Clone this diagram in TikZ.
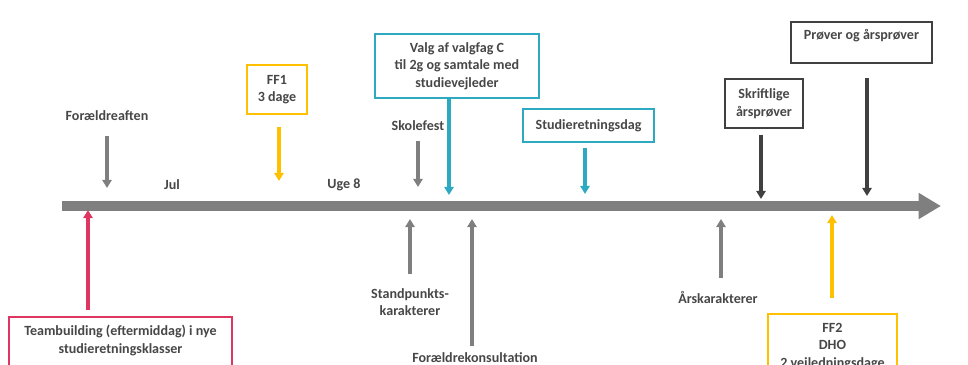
\documentclass[tikz,border=0pt]{standalone}
\usepackage{fontspec}
\setmainfont{Carlito}
\usetikzlibrary{arrows.meta}

\definecolor{linegray}{HTML}{7F7F7F}
\definecolor{darkgray}{HTML}{404040}
\definecolor{txtgray}{HTML}{474747}
\definecolor{ffyellow}{HTML}{FFC000}
\definecolor{srblue}{HTML}{2DA9C2}
\definecolor{tbred}{HTML}{DE3660}
\newcommand{\lblfont}{\bfseries\fontsize{12}{15}\selectfont}

\begin{document}
\begin{tikzpicture}[x=0.03cm,y=-0.03cm,font=\lblfont,text=txtgray]
	\tikzstyle{box}=[draw,line width=1.7pt,align=center,inner sep=3pt]
	\tikzstyle{pin}=[line width=2.6pt,-{Triangle[length=7pt,width=8pt]}]
	\tikzstyle{lbl}=[align=center,inner sep=0pt]

	\useasboundingbox (0,0) rectangle (968,365);
	\clip (0,0) rectangle (968,365);

	% timeline
	\coordinate (t_start) at (62,206);
	\coordinate (t_end) at (941,206);
	\draw[line width=8pt,linegray,-{Triangle[length=19pt,width=21pt]}] (t_start) -- (t_end);

	% above the line
	\node[lbl] (foraeldreaften) at (107,116) {Forældreaften};
	\node[lbl] (jul) at (172,185) {Jul};
	\node[lbl] (uge8) at (344,185) {Uge 8};
	\node[lbl] (skolefest) at (418,126) {Skolefest};
	\node[box,draw=ffyellow,minimum width=1.8cm,minimum height=1.47cm] (ff1) at (277,89.5) {FF1\\3 dage};
	\node[box,draw=srblue,minimum width=4.92cm,minimum height=1.92cm] (valgfag) at (457,66) {Valg af valgfag C\\til 2g og samtale med\\studievejleder};
	\node[box,draw=srblue,minimum width=3.93cm,minimum height=0.99cm] (srdag) at (588.5,125.5) {Studieretningsdag};
	\node[box,draw=darkgray,line width=1.3pt,minimum width=2.34cm,minimum height=1.47cm] (skriftlige) at (764,103.5) {Skriftlige\\årsprøver};
	\node[box,draw=darkgray,line width=1.3pt,minimum width=4.23cm,inner sep=4pt,text height=11pt,text depth=16pt] (proever) at (861.5,42.5) {Prøver og årsprøver};

	\coordinate (a_fa) at (107,188);
	\coordinate (a_ff1) at (279,181);
	\coordinate (a_sf) at (418,187);
	\coordinate (a_vf) at (449,195);
	\coordinate (a_sr) at (585,194);
	\coordinate (a_sk) at (761,199);
	\coordinate (a_pr) at (867,196);

	\draw[pin,linegray,shorten <=13pt] (foraeldreaften.south -| a_fa) -- (a_fa);
	\draw[pin,ffyellow,shorten <=10pt] (ff1.south -| a_ff1) -- (a_ff1);
	\draw[pin,linegray,shorten <=8pt] (skolefest.south -| a_sf) -- (a_sf);
	\draw[pin,srblue] (valgfag.south -| a_vf) -- (a_vf);
	\draw[pin,srblue,shorten <=4pt] (srdag.south -| a_sr) -- (a_sr);
	\draw[pin,darkgray,shorten <=5pt] (skriftlige.south -| a_sk) -- (a_sk);
	\draw[pin,darkgray,shorten <=12pt] (proever.south -| a_pr) -- (a_pr);

	% below the line
	\node[box,draw=tbred,anchor=north,minimum width=6.69cm,minimum height=2.04cm,text depth=20pt] (teambuilding) at (120.5,316) {Teambuilding (eftermiddag) i nye\\studieretningsklasser};
	\node[lbl] (standpunkt) at (410,302) {Standpunkts-\\karakterer};
	\node[lbl] (konsultation) at (475,358) {Forældrekonsultation};
	\node[lbl] (aarskar) at (718,298) {Årskarakterer};
	\node[box,draw=ffyellow,anchor=north,minimum width=3.87cm,minimum height=2.3cm,text depth=12pt] (ff2) at (832.5,313) {FF2\\DHO\\2 vejledningsdage};

	\coordinate (b_tb) at (88,210);
	\coordinate (b_sp) at (410,219);
	\coordinate (b_fk) at (472,219);
	\coordinate (b_ak) at (721,219);
	\coordinate (b_ff2) at (832,215);

	\draw[pin,tbred,shorten <=5pt] (teambuilding.north -| b_tb) -- (b_tb);
	\draw[pin,linegray,shorten <=12pt] (standpunkt.north -| b_sp) -- (b_sp);
	\draw[pin,linegray,shorten <=6pt] (konsultation.north -| b_fk) -- (b_fk);
	\draw[pin,linegray,shorten <=12pt] (aarskar.north -| b_ak) -- (b_ak);
	\draw[pin,ffyellow,shorten <=13pt] (ff2.north -| b_ff2) -- (b_ff2);
\end{tikzpicture}
\end{document}
